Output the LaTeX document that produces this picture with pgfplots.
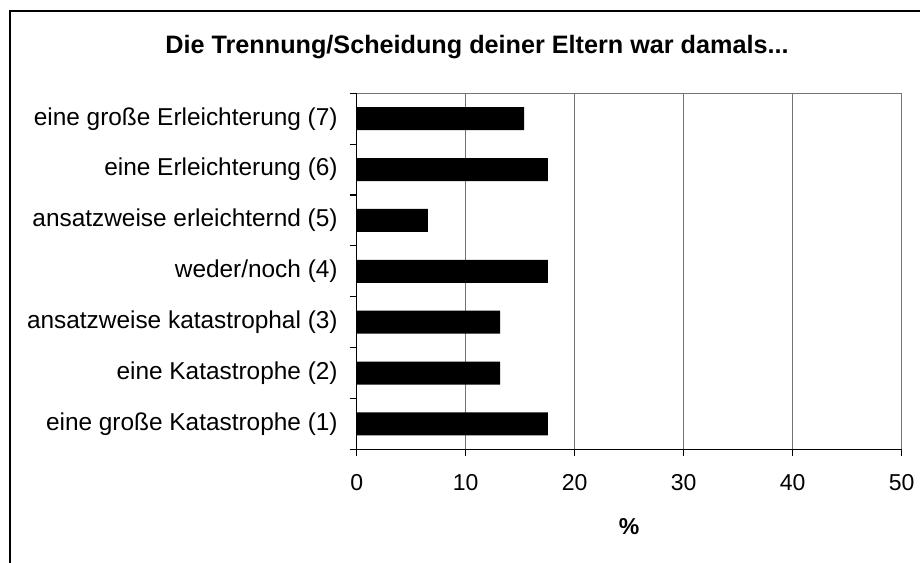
\documentclass[border=0pt]{standalone}
\usepackage{fontspec}
\setmainfont{Liberation Sans}
\usepackage{pgfplots}
\pgfplotsset{compat=1.18}
\begin{document}
\fontsize{11.5}{13.8}\selectfont
\begin{tikzpicture}
\useasboundingbox (0,0) rectangle (460pt,281pt);
\draw[line width=1pt] (5pt,-10pt) -- (5pt,275.5pt) -- (480pt,275.5pt);
\node[font=\fontsize{12.6}{15}\selectfont\bfseries] at (238.5pt,257.5pt) {Die Trennung/Scheidung deiner Eltern war damals...};
\begin{axis}[
  at={(178.35pt,56.35pt)}, anchor=south west,
  scale only axis, width=272.5pt, height=178pt,
  xbar, bar width=11.5pt,
  xmin=0, xmax=50, ymin=0.5, ymax=7.5,
  xtick={0,10,...,50},
  ytick={0.5,1.5,...,7.5}, yticklabels={},
  extra y ticks={1,...,7},
  extra y tick labels={eine große Katastrophe (1),eine Katastrophe (2),ansatzweise katastrophal (3),weder/noch (4),ansatzweise erleichternd (5),eine Erleichterung (6),eine große Erleichterung (7)},
  extra y tick style={major tick length=0pt, yticklabel style={xshift=-5.5pt, font=\fontsize{12.2}{14}\selectfont}},
  axis lines=left, axis line style={-, line width=0.6pt},
  xmajorgrids, grid style={black!55, line width=0.6pt},
  major tick length=3.5pt,
  tick align=outside,
  tick style={black, line width=0.6pt},
  /pgf/number format/assume math mode=true,
  xticklabel style={yshift=-5pt},
  xlabel={\bfseries\%},
  xlabel style={at={(0.5,0)}, anchor=center, yshift=-38.7pt},
  clip=false,
]
\addplot[fill=black, draw=none] coordinates {(17.55,1) (13.15,2) (13.15,3) (17.55,4) (6.54,5) (17.55,6) (15.35,7)};
\draw[black!55, line width=0.6pt] (rel axis cs:0,1) -- (rel axis cs:1,1) -- (rel axis cs:1,0);
\end{axis}
\end{tikzpicture}
\end{document}
